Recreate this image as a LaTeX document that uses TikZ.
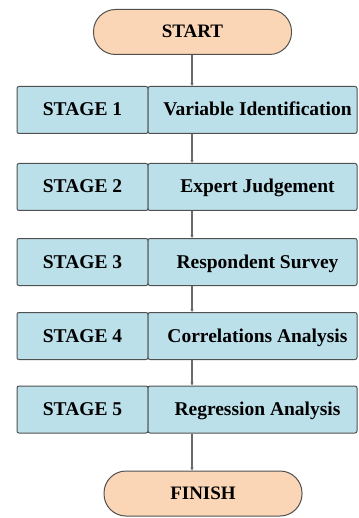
\documentclass[tikz,border=0pt]{standalone}
\usepackage{fontspec}
\setmainfont{Liberation Serif}
\usetikzlibrary{arrows.meta,calc}
\definecolor{peach}{HTML}{FAD6B7}
\definecolor{stageblue}{HTML}{BCE0EA}
\definecolor{edge}{HTML}{505050}
\definecolor{conn}{HTML}{6A6A6A}
\tikzset{
  term/.style={draw=edge, line width=1pt, fill=peach, rounded corners=22pt,
    minimum width=198pt, minimum height=45pt, inner sep=0pt,
    text height=13pt, text depth=1pt,
    font=\fontsize{19}{22}\selectfont\bfseries},
  stagecell/.style={draw=edge, line width=1pt, fill=stageblue, rounded corners=2pt,
    minimum width=131pt, minimum height=47pt, inner sep=0pt,
    text height=13pt, text depth=1pt,
    font=\fontsize{19.5}{22}\selectfont\bfseries},
  taskcell/.style={stagecell, minimum width=209pt},
  link/.style={draw=conn, line width=1.2pt, -{Stealth[length=3pt,width=3pt]}}
}
\begin{document}
\begin{tikzpicture}[x=1pt,y=-1pt]
\useasboundingbox (0,0) rectangle (358,518);
\node[term] (start) at (192.5,32) {START};
\foreach \i/\y/\t in {1/110/Variable Identification,2/187/Expert Judgement,3/262/Respondent Survey,4/336/Correlations Analysis,5/409.5/Regression Analysis}{
  \node[stagecell] (s\i a) at (82.5,\y) {STAGE \i};
  \node[taskcell] (s\i b) at (252.5,\y) {\hspace*{10pt}\t};
}
\node[term] (finish) at (203,493.5) {FINISH};
\coordinate (lx) at (192,0);
\draw[link] (lx |- start.south) -- (lx |- s1b.north);
\draw[link] (lx |- s1b.south) -- (lx |- s2b.north);
\draw[link] (lx |- s2b.south) -- (lx |- s3b.north);
\draw[link] (lx |- s3b.south) -- (lx |- s4b.north);
\draw[link] (lx |- s4b.south) -- (lx |- s5b.north);
\draw[link] (lx |- s5b.south) -- (lx |- finish.north);
\end{tikzpicture}
\end{document}
